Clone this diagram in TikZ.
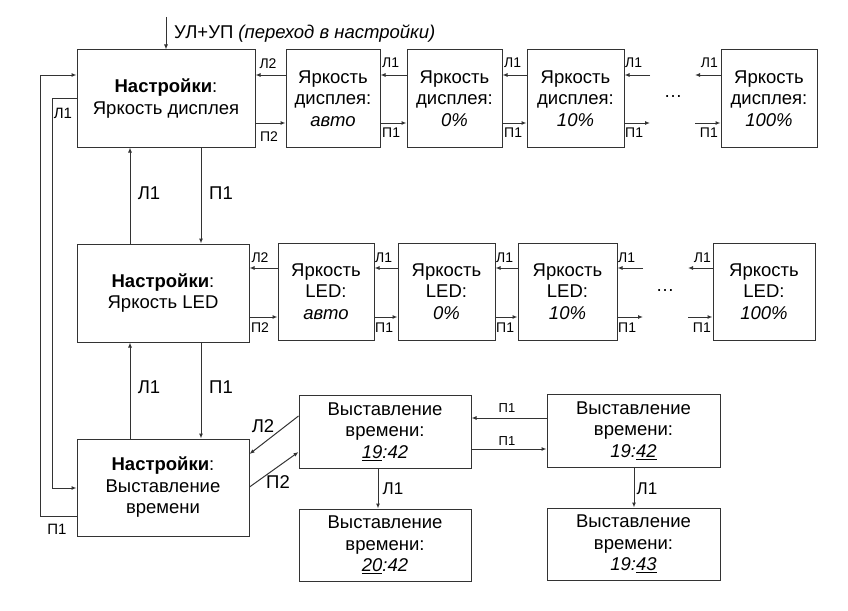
\documentclass[tikz,border=0pt]{standalone}
\usepackage{fontspec}
\setmainfont{Liberation Sans}
\usetikzlibrary{arrows.meta}
\begin{document}
\begin{tikzpicture}[x=1pt,y=-1pt,
 box/.style={draw=black!80,line width=1pt,align=center,inner sep=0pt,font=\fontsize{18.5}{21.5}\selectfont},
 arr/.style={draw=black!80,line width=1pt,-{Latex[length=5pt,width=4pt]}},
 lbl/.style={font=\fontsize{18.5}{21}\selectfont,inner sep=0pt},
 slbl/.style={font=\fontsize{14}{16}\selectfont,inner sep=0pt},
 tlbl/.style={font=\fontsize{13}{15}\selectfont,inner sep=0pt}]
\useasboundingbox (0,0) rectangle (848,610);

% main settings boxes
\node[box,minimum width=178pt,minimum height=97pt] (b1) at (166,98.5) {\textbf{Настройки}:\\Яркость дисплея};
\node[box,minimum width=172pt,minimum height=98pt] (b2) at (163,293) {\textbf{Настройки}:\\Яркость LED};
\node[box,minimum width=172pt,minimum height=97pt] (b3) at (163,487.5) {\textbf{Настройки}:\\Выставление\\времени};

% row 1
\node[box,minimum width=94pt,minimum height=97pt] (s1a) at (333,98.5) {Яркость\\дисплея:\\\textit{авто}};
\node[box,minimum width=95pt,minimum height=97pt] (s1b) at (454.5,98.5) {Яркость\\дисплея:\\\textit{0\%}};
\node[box,minimum width=97pt,minimum height=97pt] (s1c) at (575.5,98.5) {Яркость\\дисплея:\\\textit{10\%}};
\node[box,minimum width=96pt,minimum height=97pt] (s1d) at (769,98.5) {Яркость\\дисплея:\\\textit{100\%}};
\node[lbl] (dots1) at (673,97) {…};

% row 2
\node[box,minimum width=96pt,minimum height=97pt] (s2a) at (326,291.5) {Яркость\\LED:\\\textit{авто}};
\node[box,minimum width=97pt,minimum height=97pt] (s2b) at (446.5,291.5) {Яркость\\LED:\\\textit{0\%}};
\node[box,minimum width=99pt,minimum height=97pt] (s2c) at (567.5,291.5) {Яркость\\LED:\\\textit{10\%}};
\node[box,minimum width=102pt,minimum height=97pt] (s2d) at (764,291.5) {Яркость\\LED:\\\textit{100\%}};
\node[lbl] (dots2) at (665,291) {…};

% time boxes
\node[box,minimum width=172pt,minimum height=73pt] (tA) at (385,431.5) {Выставление\\времени:\\\underline{\textit{19}}\textit{:42}};
\node[box,minimum width=172pt,minimum height=72pt] (tB) at (385,545) {Выставление\\времени:\\\underline{\textit{20}}\textit{:42}};
\node[box,minimum width=173pt,minimum height=73pt] (tC) at (633.5,430.5) {Выставление\\времени:\\\textit{19:}\underline{\textit{42}}};
\node[box,minimum width=173pt,minimum height=72pt] (tD) at (633.5,544) {Выставление\\времени:\\\textit{19:}\underline{\textit{43}}};

% entry arrow
\coordinate (top) at (166,17);
\draw[arr] (top) -- (b1.north);
\node[font=\fontsize{18.5}{21}\selectfont,inner sep=0pt,anchor=west] (hdr) at (174,34) {УЛ+УП \textit{(переход в настройки)}};

% row coordinates
\coordinate (r1a) at (0,75);
\coordinate (r1b) at (0,123);
\coordinate (r2a) at (0,268);
\coordinate (r2b) at (0,317);

% row 1 connectors
\draw[arr] (s1a.west |- r1a) -- (b1.east |- r1a);
\draw[arr] (b1.east |- r1b) -- (s1a.west |- r1b);
\draw[arr] (s1b.west |- r1a) -- (s1a.east |- r1a);
\draw[arr] (s1a.east |- r1b) -- (s1b.west |- r1b);
\draw[arr] (s1c.west |- r1a) -- (s1b.east |- r1a);
\draw[arr] (s1b.east |- r1b) -- (s1c.west |- r1b);
\coordinate (e1a) at (650,75);
\coordinate (e1b) at (650,123);
\coordinate (f1a) at (695,75);
\coordinate (f1b) at (695,123);
\draw[arr] (e1a) -- (s1c.east |- r1a);
\draw[arr] (s1c.east |- r1b) -- (e1b);
\draw[arr] (s1d.west |- r1a) -- (f1a);
\draw[arr] (f1b) -- (s1d.west |- r1b);

\node[slbl] (l1a) at (268,64) {Л2};
\node[slbl] (l1b) at (269,137) {П2};
\node[slbl,anchor=west] at (382,63) {Л1};
\node[slbl,anchor=west] at (382,133) {П1};
\node[slbl,anchor=west] at (504,63) {Л1};
\node[slbl,anchor=west] at (504,133) {П1};
\node[slbl,anchor=west] at (625,63) {Л1};
\node[slbl,anchor=west] at (625,133) {П1};
\node[slbl,anchor=east] at (718,63) {Л1};
\node[slbl,anchor=east] at (718,133) {П1};

% row 2 connectors
\draw[arr] (s2a.west |- r2a) -- (b2.east |- r2a);
\draw[arr] (b2.east |- r2b) -- (s2a.west |- r2b);
\draw[arr] (s2b.west |- r2a) -- (s2a.east |- r2a);
\draw[arr] (s2a.east |- r2b) -- (s2b.west |- r2b);
\draw[arr] (s2c.west |- r2a) -- (s2b.east |- r2a);
\draw[arr] (s2b.east |- r2b) -- (s2c.west |- r2b);
\coordinate (e2a) at (643,268);
\coordinate (e2b) at (643,317);
\coordinate (f2a) at (688,268);
\coordinate (f2b) at (688,317);
\draw[arr] (e2a) -- (s2c.east |- r2a);
\draw[arr] (s2c.east |- r2b) -- (e2b);
\draw[arr] (s2d.west |- r2a) -- (f2a);
\draw[arr] (f2b) -- (s2d.west |- r2b);

\node[slbl] at (260,258) {Л2};
\node[slbl] at (260,328) {П2};
\node[slbl,anchor=west] at (375,258) {Л1};
\node[slbl,anchor=west] at (375,328) {П1};
\node[slbl,anchor=west] at (496,258) {Л1};
\node[slbl,anchor=west] at (496,328) {П1};
\node[slbl,anchor=west] at (618,258) {Л1};
\node[slbl,anchor=west] at (618,328) {П1};
\node[slbl,anchor=east] at (711,258) {Л1};
\node[slbl,anchor=east] at (711,328) {П1};

% vertical connectors between settings boxes
\coordinate (vx1) at (130,0);
\coordinate (vx2) at (201,0);
\draw[arr] (b2.north -| vx1) -- (b1.south -| vx1);
\draw[arr] (b1.south -| vx2) -- (b2.north -| vx2);
\draw[arr] (b3.north -| vx1) -- (b2.south -| vx1);
\draw[arr] (b2.south -| vx2) -- (b3.north -| vx2);
\node[lbl] at (149,193) {Л1};
\node[lbl] at (221,193) {П1};
\node[lbl] at (149,387) {Л1};
\node[lbl] at (221,387) {П1};

% left loops
\coordinate (o1) at (40,516);
\coordinate (o2) at (40,75);
\draw[arr] (b3.west |- o1) -- (o1) -- (o2) -- (b1.west |- o2);
\coordinate (i1) at (52,98);
\coordinate (i2) at (52,488);
\draw[arr] (b1.west |- i1) -- (i1) -- (i2) -- (b3.west |- i2);
\node[slbl,font=\fontsize{15}{17}\selectfont] at (63,113) {Л1};
\node[slbl,font=\fontsize{15}{17}\selectfont] at (57,529) {П1};

% diagonal connectors
\coordinate (dA1) at (0,416);
\coordinate (dB1) at (0,454);
\coordinate (dA2) at (0,452);
\coordinate (dB2) at (0,487);
\draw[arr] (tA.west |- dA1) -- (b3.east |- dB1);
\draw[arr] (b3.east |- dB2) -- (tA.west |- dA2);
\node[lbl] at (263,426) {Л2};
\node[lbl] at (278,482) {П2};

% time connectors
\coordinate (ta) at (0,418);
\coordinate (tb) at (0,449);
\draw[arr] (tC.west |- ta) -- (tA.east |- ta);
\draw[arr] (tA.east |- tb) -- (tC.west |- tb);
\node[tlbl] at (507,408) {П1};
\node[tlbl] at (507,441) {П1};
\coordinate (tx1) at (378,0);
\coordinate (tx2) at (634,0);
\draw[arr] (tA.south -| tx1) -- (tB.north -| tx1);
\draw[arr] (tC.south -| tx2) -- (tD.north -| tx2);
\node[lbl,font=\fontsize{17}{20}\selectfont] at (393,489) {Л1};
\node[lbl,font=\fontsize{17}{20}\selectfont] at (647,489) {Л1};
\end{tikzpicture}
\end{document}
